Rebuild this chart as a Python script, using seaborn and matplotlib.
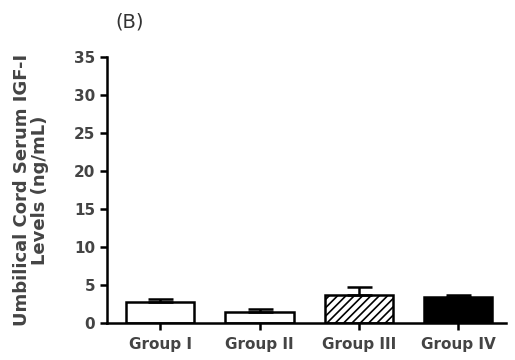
import matplotlib
matplotlib.use("Agg")
import matplotlib.pyplot as plt
import numpy as np
import pandas as pd
import seaborn as sns

# data
groups = ["Group I", "Group II", "Group III", "Group IV"]
means = [2.7, 1.5, 3.7, 3.4]
sem = [0.4, 0.3, 1.0, 0.3]
fills = ["white", "white", "white", "black"]
hatches = ["", "", "////", ""]

sns.set_theme(style="ticks")
plt.rcParams["font.family"] = ["DejaVu Sans"]
plt.rcParams["hatch.linewidth"] = 1.2

df = pd.DataFrame({"group": groups, "mean": means})

fig, ax = plt.subplots(figsize=(5.15, 3.6), dpi=100)
fig.subplots_adjust(left=0.208, right=0.982, bottom=0.103, top=0.842)

sns.barplot(data=df, x="group", y="mean", ax=ax, width=0.69,
            edgecolor="black", linewidth=1.8, errorbar=None)
for bar, fc, h in zip(ax.patches, fills, hatches):
    bar.set_facecolor(fc)
    bar.set_hatch(h)

# upper error bars only
ax.errorbar(np.arange(len(groups)), means, yerr=[np.zeros(len(sem)), sem],
            fmt="none", ecolor="black", elinewidth=1.8, capsize=9, capthick=1.8)

ax.set_ylim(0, 35)
ax.set_yticks(range(0, 36, 5))
ax.set_xlim(-0.535, 3.48)
ax.set_xlabel("")
ax.set_ylabel("Umbilical Cord Serum IGF-I\nLevels (ng/mL)", fontsize=13,
              fontweight="bold", color="#444444", labelpad=18, linespacing=1.0)
ax.set_title("(B)", loc="left", x=0.02, fontsize=14, color="#333333", pad=21)
ax.tick_params(axis="y", labelsize=11)
ax.tick_params(axis="x", labelsize=11, pad=5)
ax.tick_params(axis="both", direction="out", width=1.8, length=5, color="black",
               labelcolor="#444444")
for lbl in ax.get_xticklabels() + ax.get_yticklabels():
    lbl.set_fontweight("bold")
for s in ["left", "bottom"]:
    ax.spines[s].set_linewidth(1.8)
    ax.spines[s].set_color("black")
sns.despine(ax=ax)

plt.savefig("out.png", dpi=100)
